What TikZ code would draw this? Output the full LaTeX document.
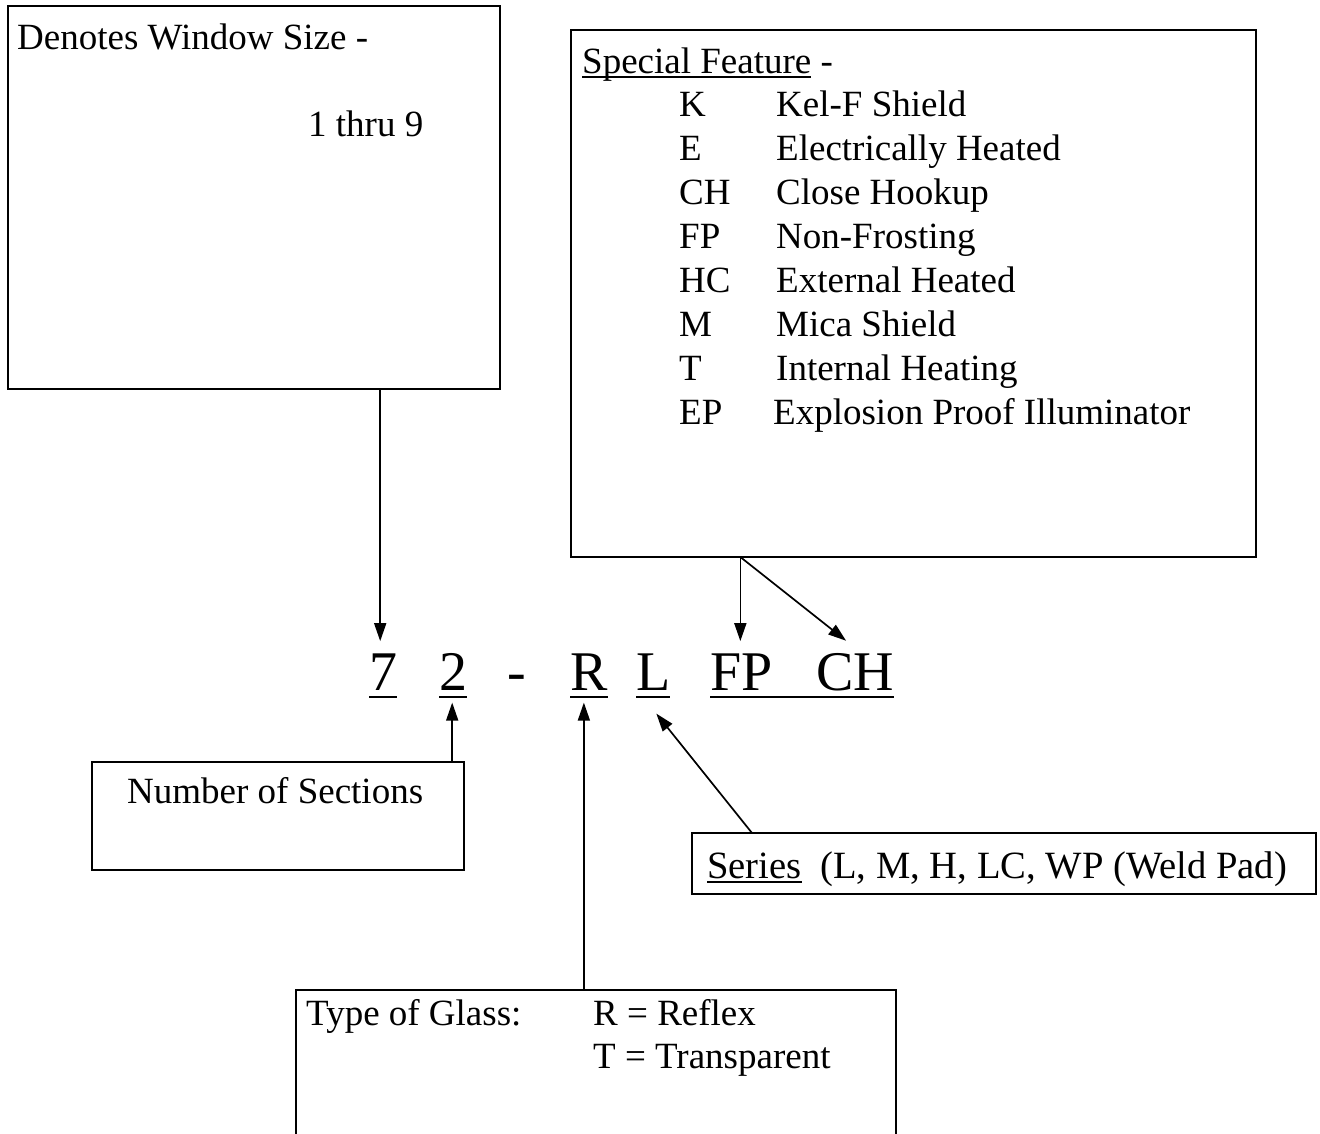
\documentclass[tikz,border=0pt]{standalone}
\usepackage{fontspec}
\setmainfont{Liberation Serif}
\usetikzlibrary{arrows.meta,calc}
\newcommand\myul[3]{\setbox0\hbox{#3}\rlap{\rule[-#1]{\wd0}{#2}}\box0\relax}
\tikzset{
  box/.style={draw, line width=2.2pt, inner sep=0pt, outer sep=0pt},
  txt/.style={inner sep=0pt, anchor=base west, font=\fontsize{37}{44}\selectfont},
  big/.style={inner sep=0pt, anchor=base west, font=\fontsize{56}{64}\selectfont},
  arr/.style={line width=1.7pt, -{Triangle[length=18pt,width=12pt]}},
  ulbig/.style={line width=2.8pt},
}
\begin{document}
\begin{tikzpicture}[x=1pt,y=-1pt]
\useasboundingbox (0,0) rectangle (1320,1133);
\clip (0,0) rectangle (1320,1133);
\fill[white] (0,0) rectangle (1320,1133);

% boxes
\node[box, minimum width=492pt, minimum height=383pt] (b1) at (254,197.5) {};
\node[box, minimum width=685pt, minimum height=527pt] (b2) at (913.5,293.5) {};
\node[box, minimum width=372pt, minimum height=108pt] (b3) at (278,816) {};
\node[box, minimum width=624pt, minimum height=61pt] (b4) at (1004,863.5) {};
\node[box, minimum width=600pt, minimum height=190pt] (b5) at (596,1085) {};

% box texts
\node[txt] (t1a) at (17,49) {Denotes Window Size -};
\node[txt] (t1b) at (308,136) {1 thru 9};
\node[txt] (t2) at (582,73) {\myul{4.9pt}{1.8pt}{Special Feature} -};
\foreach \c/\d [count=\i from 0] in {K/Kel-F Shield, E/Electrically Heated, CH/Close Hookup, FP/Non-Frosting, HC/External Heated, M/Mica Shield, T/Internal Heating}{
  \node[txt] (fc\i) at (679,116+44*\i) {\c};
  \node[txt] (fd\i) at (776,116+44*\i) {\d};
}
\node[txt] (fc7) at (679,424) {EP};
\node[txt] (fd7) at (773,424) {Explosion Proof Illuminator};
\node[txt] (t3) at (127,803) {Number of Sections};
\node[txt, font=\fontsize{38.6}{44}\selectfont] (t4) at (707,878) {\myul{5pt}{1.9pt}{Series}\hspace{19pt}(L, M, H, LC, WP (Weld Pad)};
\node[txt] (t5a) at (306,1025) {Type of Glass:};
\node[txt] (t5b) at (593,1025) {R = Reflex};
\node[txt] (t5c) at (593,1068) {T = Transparent};

% code
\node[big] (n7) at (369,690) {\myul{8.4pt}{2.8pt}{7}};
\node[big] (n2) at (439,690) {\myul{8.4pt}{2.8pt}{2}};
\node[big] (nd) at (507,690) {-};
\node[big] (nR) at (570,690) {\myul{8.4pt}{2.8pt}{R}};
\node[big] (nL) at (636,690) {\myul{8.4pt}{2.8pt}{L}};
\node[big] (nF) at (710,690) {FP};
\node[big] (nC) at (816,690) {CH};
\draw[ulbig] ($(nF.base west)+(0,7)$) -- ($(nC.base east)+(0,7)$);

% tip coordinates
\coordinate (tip7) at ($(n7.north)+(-3,-12)$);
\coordinate (tipF) at ($(nF.north)+(-1,-12)$);
\coordinate (tipC) at ($(nC.north)+(-9,-12)$);
\coordinate (tip2) at ($(n2.south)+(-1,4)$);
\coordinate (tipR) at ($(nR.south)+(-5,4)$);
\coordinate (tipL) at ($(nL.south)+(3,15)$);
\coordinate (s4) at ($(b4.north west)+(60,0)$);

% connectors
\draw[arr] (b1.south -| tip7) -- (tip7);
\draw[arr] (b2.south -| tipF) -- (tipF);
\draw[arr] (b2.south -| tipF) -- (tipC);
\draw[arr] (b3.north -| tip2) -- (tip2);
\draw[arr] (b5.north -| tipR) -- (tipR);
\draw[arr] (s4) -- (tipL);
\end{tikzpicture}
\end{document}
